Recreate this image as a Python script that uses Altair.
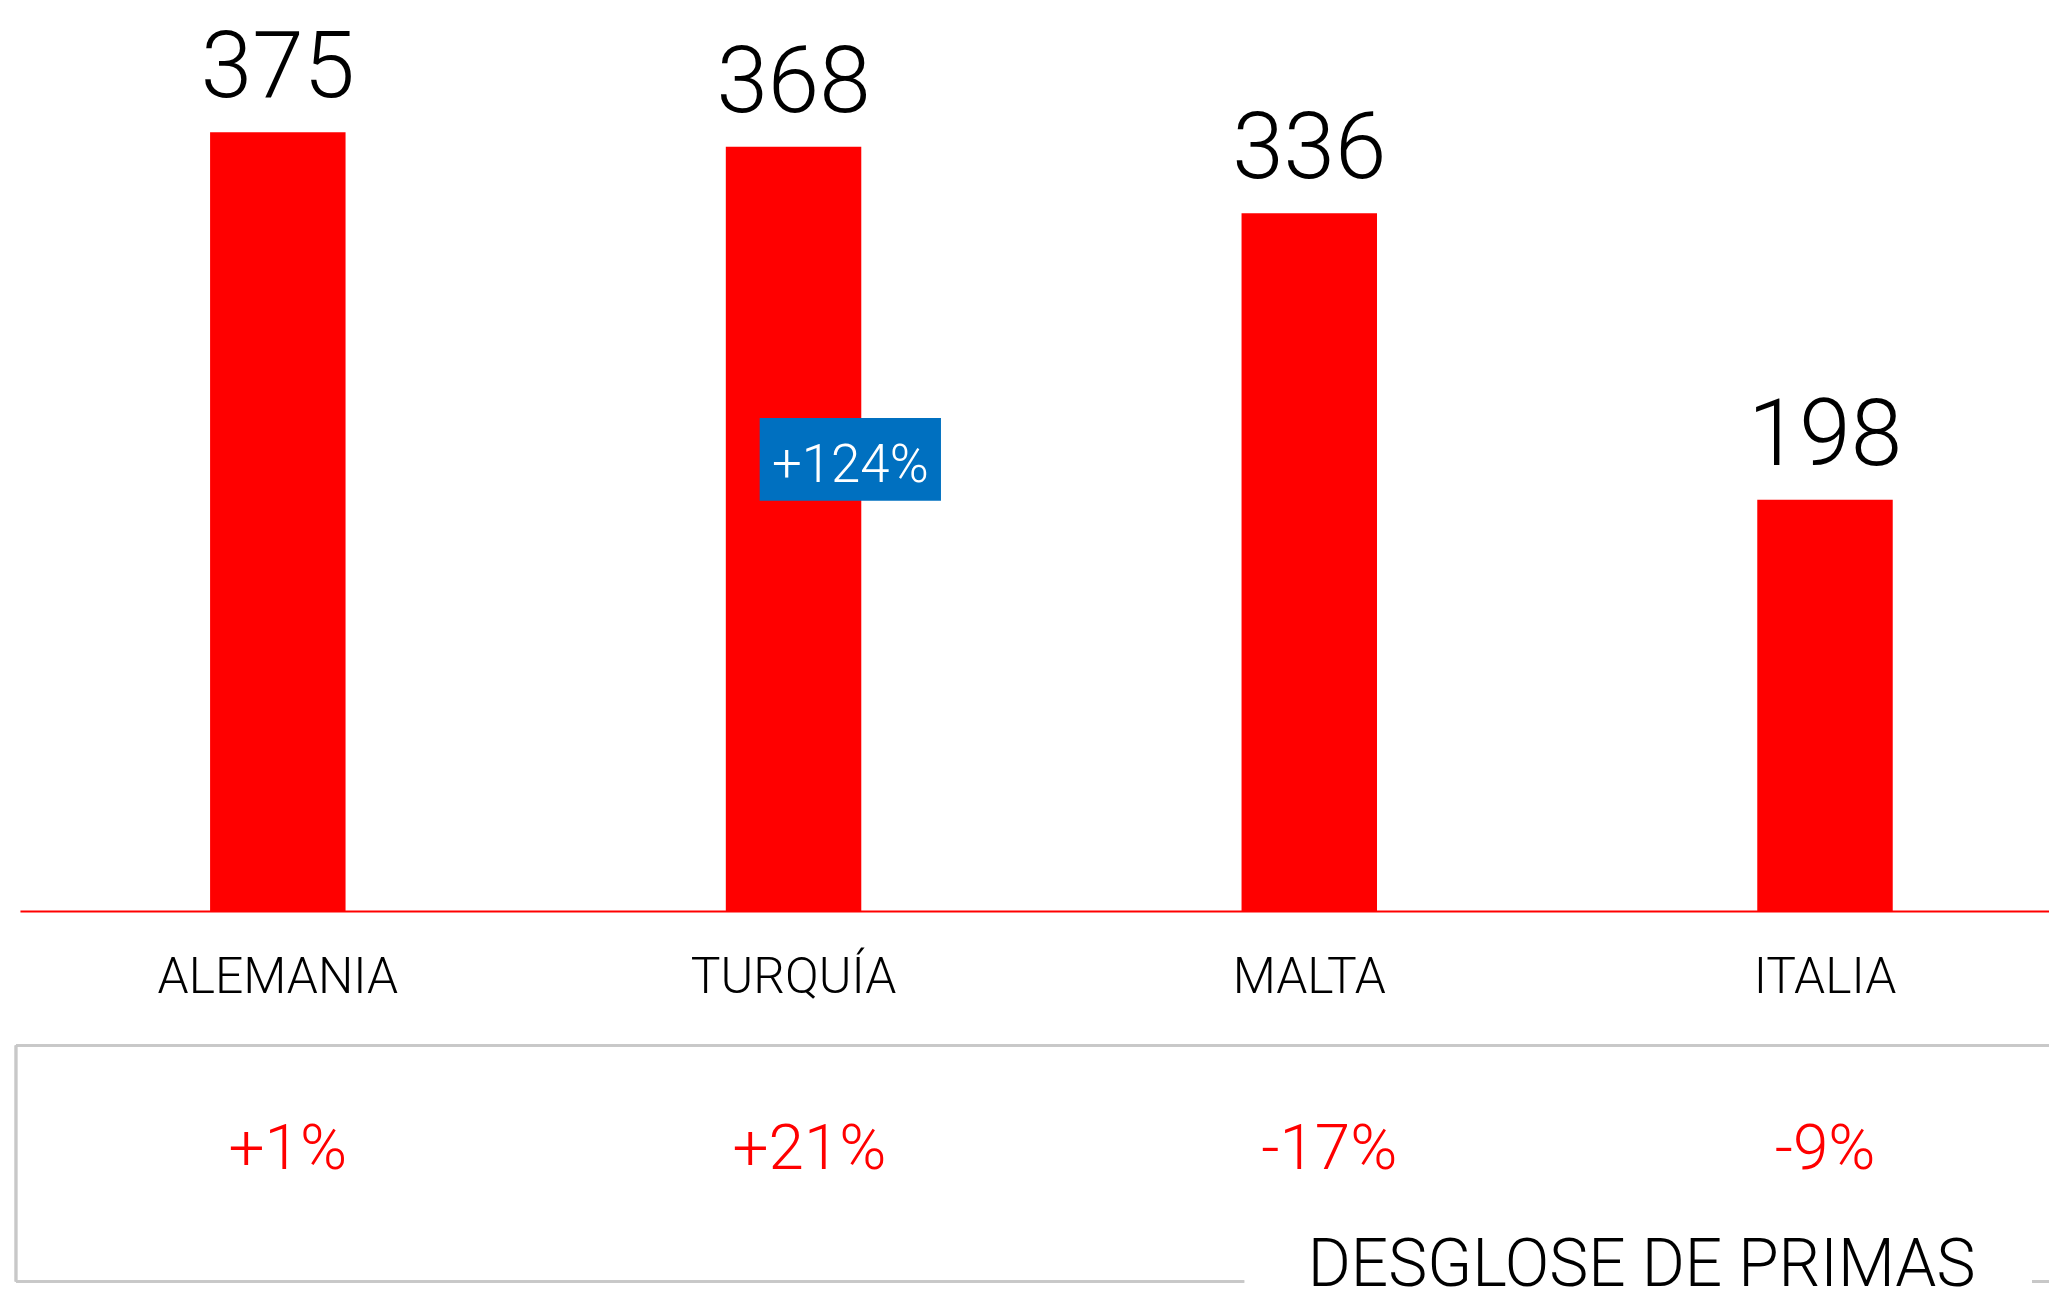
import altair as alt
import pandas as pd

categories = ["ALEMANIA", "TURQUÍA", "MALTA", "ITALIA"]
values = [375, 368, 336, 198]
growth = ["+1%", "+21%", "-17%", "-9%"]
growth_dx = [10, 16, 20, 0]
title_text = "DESGLOSE DE PRIMAS"
highlight_text = "+124%"
highlight_cat = "TURQUÍA"

df = pd.DataFrame({"cat": categories, "value": values, "growth": growth})

FONT = "Roboto"
RED = "#FF0000"
BLUE = "#0070C0"
GRAY = "#C8C8C8"

TOP = 20  # top padding so tallest label is not clipped
xscale = alt.Scale(domain=categories, range=[12, 2083], paddingInner=0, paddingOuter=0)
yscale = alt.Scale(domain=[0, 424.0], range=[884, 0], nice=False, zero=True)

x_enc = alt.X("cat:N", scale=xscale, sort=categories,
              axis=alt.Axis(title=None, domainColor=RED, domainWidth=2, ticks=False, tickSize=0,
                            labelFontSize=50, labelFont=FONT, labelFontWeight=300,
                            labelColor="black", labelAngle=0, labelLimit=0,
                            labelBaseline="alphabetic", labelPadding=82, grid=False))
y_enc = alt.Y("value:Q", scale=yscale, axis=None)

base = alt.Chart(df)

bars = base.mark_bar(width=136, color=RED).encode(x=x_enc, y=y_enc)

value_labels = base.mark_text(fontSize=93, font=FONT, fontWeight=300, color="black",
                              baseline="alphabetic", dy=-35).encode(
    x=alt.X("cat:N", sort=categories), y="value:Q", text="value:Q")

growth_layers = []
for c, g, d in zip(categories, growth, growth_dx):
    growth_layers.append(
        alt.Chart(pd.DataFrame({"cat": [c], "growth": [g]})).mark_text(
            fontSize=64, font=FONT, fontWeight=300, color=RED, baseline="alphabetic", dx=d
        ).encode(x=alt.X("cat:N", sort=categories), y=alt.value(1163 - TOP), text="growth:N")
    )

hl = alt.Chart(pd.DataFrame({"cat": [highlight_cat], "top": [237.4], "bot": [197.6],
                             "mid": [206.7], "label": [highlight_text]}))
hl_box = hl.mark_bar(width=182, xOffset=57, color=BLUE).encode(
    x=alt.X("cat:N", sort=categories), y="top:Q", y2="bot:Q")
hl_text = hl.mark_text(fontSize=53, font=FONT, fontWeight=300, color="white",
                       baseline="alphabetic", xOffset=57).encode(
    x=alt.X("cat:N", sort=categories), y="mid:Q", text="label:N")

# gray frame
frame_top = base.mark_rule(color=GRAY, strokeWidth=2.5).encode(
    x=alt.value(8), x2=alt.value(2060), y=alt.value(1039 - TOP))
frame_left = base.mark_rule(color=GRAY, strokeWidth=2.5).encode(
    x=alt.value(8), y=alt.value(1039 - TOP), y2=alt.value(1276 - TOP))
frame_bot1 = base.mark_rule(color=GRAY, strokeWidth=2.5).encode(
    x=alt.value(8), x2=alt.value(1241), y=alt.value(1276 - TOP))
frame_bot2 = base.mark_rule(color=GRAY, strokeWidth=2.5).encode(
    x=alt.value(2032), x2=alt.value(2060), y=alt.value(1276 - TOP))

title = alt.Chart(pd.DataFrame({"t": [title_text]})).mark_text(
    fontSize=66, font=FONT, fontWeight=300, color="black", baseline="alphabetic", align="center"
).encode(x=alt.value(1640), y=alt.value(1280 - TOP), text="t:N")

chart = alt.layer(bars, value_labels, *growth_layers, hl_box, hl_text,
                  frame_top, frame_left, frame_bot1, frame_bot2, title).properties(
    width=2049, height=884,
    padding={"left": 0, "top": TOP, "right": 0, "bottom": 390},
    autosize=alt.AutoSizeParams(type="none"),
).configure(background="white", view=alt.ViewConfig(stroke=None))

chart.save("out.html", embed_options={"renderer": "svg", "actions": False})
